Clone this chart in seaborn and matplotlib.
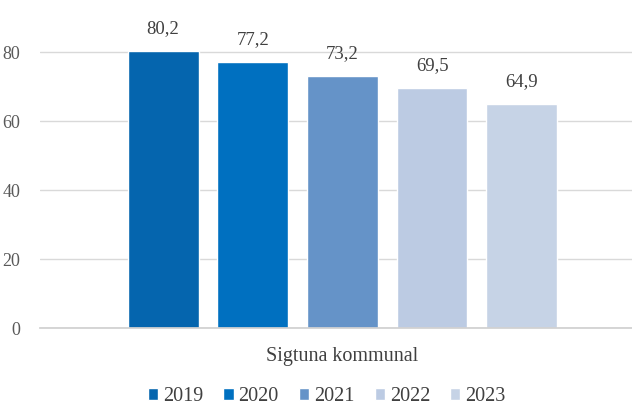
import matplotlib
matplotlib.use("Agg")
import matplotlib.pyplot as plt
import seaborn as sns
import pandas as pd

categories = ["Sigtuna kommunal"]
years = ["2019", "2020", "2021", "2022", "2023"]
values = [80.2, 77.2, 73.2, 69.5, 64.9]
colors = ["#0565ae", "#0070c0", "#6593c8", "#bccbe3", "#c6d3e6"]
yticks = [0, 20, 40, 60, 80]

df = pd.DataFrame({"kategori": categories * len(years), "år": years, "värde": values})

sns.set_theme(style="white")
plt.rcParams["font.family"] = ["Liberation Serif", "DejaVu Serif"]

fig = plt.figure(figsize=(6.32, 4.08), dpi=100)
ax = fig.add_axes([0.063, 0.196, 0.937, 0.761])

sns.barplot(data=df, x="kategori", y="värde", hue="år", palette=colors,
            width=0.757, gap=0.21, ax=ax, legend=True, saturation=1)

ax.set_ylim(0, 90)
ax.set_xlim(-0.511, 0.489)
ax.set_yticks(yticks)
ax.yaxis.grid(True, color="#d9d9d9", linewidth=1)
ax.set_axisbelow(True)
for s in ["top", "right", "left"]:
    ax.spines[s].set_visible(False)
ax.spines["bottom"].set_color("#d0d0d0")
ax.tick_params(axis="y", length=0, labelsize=13, colors="#595959", pad=14)
ax.tick_params(axis="x", length=0, labelsize=14.5, colors="#404040", pad=14)
ax.set_xlabel("")
ax.set_ylabel("")

for c in ax.containers:
    ax.bar_label(c, labels=[f"{v:.1f}".replace(".", ",") for v in c.datavalues],
                 padding=10, fontsize=13.5, color="#404040")

handles, labels = ax.get_legend_handles_labels()
ax.get_legend().remove()
fig.legend(handles, labels, loc="center", bbox_to_anchor=(0.517, 0.028), ncol=5,
           frameon=False, fontsize=14.5, handlelength=0.5, handleheight=0.5,
           handletextpad=0.25, columnspacing=1.0, labelcolor="#404040",
           borderpad=0.1)

fig.savefig("out.png", dpi=100)
